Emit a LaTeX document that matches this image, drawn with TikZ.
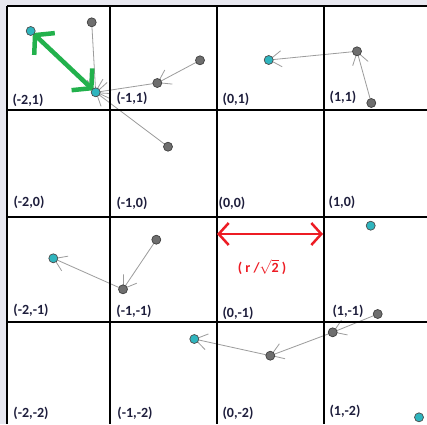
\documentclass[tikz,border=0pt]{standalone}
\usepackage{fontspec}
\setmainfont{Carlito}
\usetikzlibrary{arrows.meta}
\definecolor{bgc}{HTML}{E8E8F0}
\definecolor{labc}{HTML}{1E1E3C}
\definecolor{dotgray}{HTML}{6E6E6E}
\definecolor{dotcyan}{HTML}{2FB5BE}
\definecolor{conngray}{HTML}{9C9C9C}
\definecolor{grn}{HTML}{22B14C}
\definecolor{rd}{HTML}{ED1C24}
\pgfdeclarelayer{back}
\pgfdeclarelayer{bg}
\pgfsetlayers{back,bg,main}
\tikzset{
  gridline/.style={line width=2pt, black},
  lab/.style={font=\fontsize{14}{16}\selectfont\bfseries, text=labc, inner sep=0pt},
  gdot/.style={circle, minimum size=9pt, inner sep=0pt, fill=dotgray, draw=black!75, line width=0.7pt},
  cdot/.style={circle, minimum size=9pt, inner sep=0pt, fill=dotcyan, draw=black!70, line width=0.7pt},
  conn/.style={conngray, line width=0.8pt, -{Straight Barb[length=12pt,width=16pt]}},
  greenarrow/.style={grn, line width=4.5pt, line cap=round, {Straight Barb[length=13pt,width=30pt]}-{Straight Barb[length=13pt,width=30pt]}, shorten <=3pt, shorten >=3pt},
  redarrow/.style={rd, line width=2.5pt, {Straight Barb[length=10pt,width=22pt]}-{Straight Barb[length=10pt,width=22pt]}},
}
\begin{document}
\begin{tikzpicture}[x=1pt,y=-1pt]
\useasboundingbox (0,0) rectangle (427,424);
\begin{pgfonlayer}{back}
\fill[bgc] (0,0) rectangle (427,424);
\fill[white] (7,6) rectangle (427,424);
\end{pgfonlayer}
% grid
\draw[gridline] (7,6) -- (427,6);
\draw[gridline] (7,110) -- (427,110);
\draw[gridline] (7,217) -- (427,217);
\draw[gridline] (7,322) -- (427,322);
\draw[gridline] (7,6) -- (7,424);
\draw[gridline] (110,6) -- (110,424);
\draw[gridline] (217,6) -- (217,424);
\draw[gridline] (324,6) -- (324,424);
% labels
\node[lab] (l1) at (28,100) {(-2,1)};
\node[lab] (l2) at (132,98) {(-1,1)};
\node[lab] (l3) at (236,99) {(0,1)};
\node[lab] (l4) at (343,97) {(1,1)};
\node[lab] (l5) at (29,202) {(-2,0)};
\node[lab] (l6) at (132,203) {(-1,0)};
\node[lab] (l7) at (232,203) {(0,0)};
\node[lab] (l8) at (342,202) {(1,0)};
\node[lab] (l9) at (31,310) {(-2,-1)};
\node[lab] (l10) at (134,311) {(-1,-1)};
\node[lab] (l11) at (238,313) {(0,-1)};
\node[lab] (l12) at (348,311) {(1,-1)};
\node[lab] (l13) at (31,413) {(-2,-2)};
\node[lab] (l14) at (135,413) {(-1,-2)};
\node[lab] (l15) at (238,413) {(0,-2)};
\node[lab] (l16) at (345,411) {(1,-2)};
% dots
\node[cdot] (c1) at (30.7,31) {};
\node[gdot] (g1) at (91.7,22.3) {};
\node[cdot] (c2) at (95.7,92.3) {};
\node[gdot] (g2) at (157.3,83) {};
\node[gdot] (g3) at (200,60.3) {};
\node[gdot] (g4) at (168,146.7) {};
\node[cdot] (c3) at (268.7,60) {};
\node[gdot] (g5) at (357,51.3) {};
\node[gdot] (g6) at (371.3,103) {};
\node[cdot] (c4) at (53.3,258.3) {};
\node[gdot] (g7) at (156.3,239.7) {};
\node[gdot] (g8) at (123,289.3) {};
\node[cdot] (c5) at (194.3,339) {};
\node[cdot] (c6) at (370.7,225.7) {};
\node[gdot] (g9) at (377.7,314) {};
\node[gdot] (g10) at (332.7,332.3) {};
\node[gdot] (g11) at (270.3,355.7) {};
\node[cdot] (c7) at (419,417.3) {};
% red measure arrow
\coordinate (ra) at (217,234);
\coordinate (rb) at (323,234);
\node[text=rd, font=\fontsize{14}{16}\selectfont\bfseries, inner sep=0pt] (rl) at (262,267) {( r /$\sqrt{\mbox{2}}$ )};
\begin{pgfonlayer}{bg}
\draw[conn] (g1.center) -- (c2.center);
\draw[conn] (g2.center) -- (c2.center);
\draw[conn] (g3.center) -- (g2.center);
\draw[conn] (g4.center) -- (c2.center);
\draw[conn] (g6.center) -- (g5.center);
\draw[conn] (g5.center) -- (c3.center);
\draw[conn] (g7.center) -- (g8.center);
\draw[conn] (g8.center) -- (c4.center);
\draw[conn] (g9.center) -- (g10.center);
\draw[conn] (g10.center) -- (g11.center);
\draw[conn] (g11.center) -- (c5.center);
\draw[greenarrow] (c1.center) -- (c2.center);
\end{pgfonlayer}
\draw[redarrow] (ra) -- (rb);
\end{tikzpicture}
\end{document}
